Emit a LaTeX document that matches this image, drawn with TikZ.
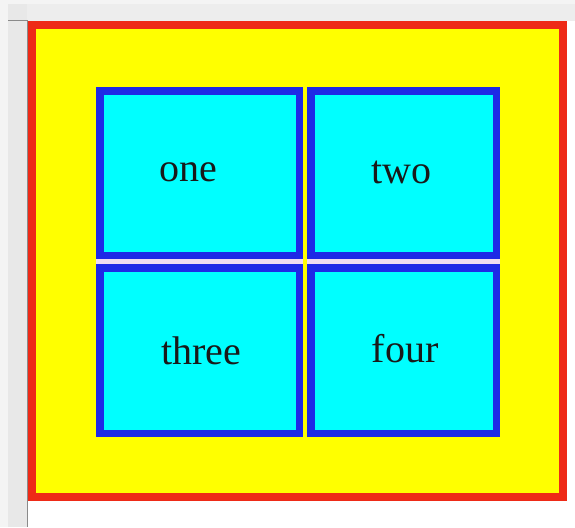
\documentclass[tikz,border=0pt]{standalone}
\usepackage{fontspec}
\setmainfont{Liberation Serif}
\usetikzlibrary{positioning}
\definecolor{frameRed}{HTML}{EE2A17}
\definecolor{panelYellow}{HTML}{FFFF00}
\definecolor{cellBlue}{HTML}{1E2AE6}
\definecolor{cellCyan}{HTML}{00FFFF}
\definecolor{gapLilac}{HTML}{EEDDF0}
\definecolor{chromeGray}{HTML}{E8E8E8}
\definecolor{chromeLine}{HTML}{8A8A8A}

\begin{document}
\begin{tikzpicture}[x=1pt, y=-1pt,
    cell/.style={draw=cellBlue, fill=cellCyan, line width=7.5pt, inner sep=0pt},
    cellText/.style={font=\fontsize{40}{40}\selectfont, anchor=base, text=black!90}]
  \useasboundingbox (0,0) rectangle (575,527);
  % Window chrome (top and left strips)
  \fill[white] (0,0) rectangle (575,527);
  \fill[chromeGray!50] (0,0) rectangle (575,21);
  \fill[chromeGray!80] (8,4) rectangle (575,21);
  \fill[chromeGray!50] (0,0) rectangle (8,527);
  \fill[chromeGray] (8,4) rectangle (27,527);
  \draw[chromeLine, line width=1pt] (8,20.5) -- (28,20.5);
  \draw[chromeLine, line width=1pt] (27.5,21) -- (27.5,527);
  % Outer frame
  \draw[frameRed, fill=panelYellow, line width=8pt] (32,25) rectangle (563,497);
  % Cells
  \node[cell, minimum width=199.5pt, minimum height=164.5pt] (one) at (199.5,173) {};
  \node[cell, minimum width=185.5pt, minimum height=164.5pt] (two) at (403.5,173) {};
  \node[cell, minimum width=199.5pt, minimum height=165.5pt] (three) at (199.5,350.5) {};
  \node[cell, minimum width=185.5pt, minimum height=165.5pt] (four) at (403.5,350.5) {};
  % Gaps between rows
  \fill[gapLilac] (one.south west) rectangle (three.north east);
  \fill[gapLilac] (two.south west) rectangle (four.north east);
  % Cell texts
  \node[cellText] (oneLbl) at (188,181) {one};
  \node[cellText] (twoLbl) at (401,183) {two};
  \node[cellText] (threeLbl) at (201,364) {three};
  \node[cellText] (fourLbl) at (405,362) {four};
\end{tikzpicture}
\end{document}
